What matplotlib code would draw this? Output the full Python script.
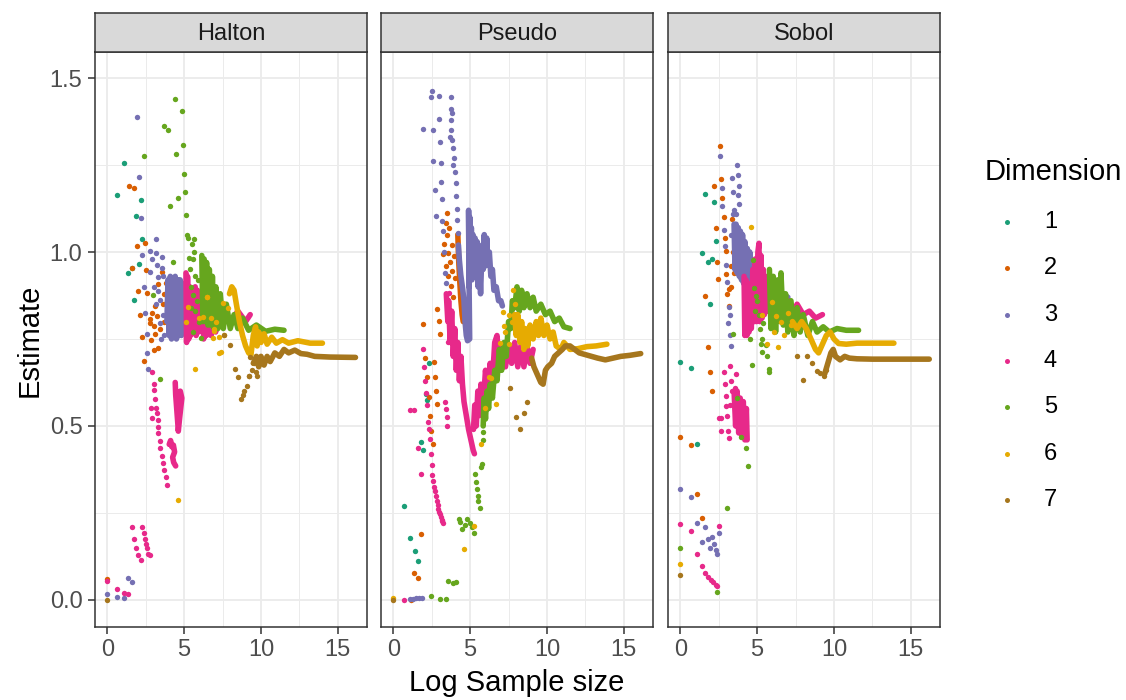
import matplotlib
matplotlib.use("Agg")
import matplotlib.pyplot as plt
import numpy as np

plt.rcParams["font.family"] = ["Liberation Sans", "DejaVu Sans"]

# facet names, dimensions and colours (Dark2)
panels = ["Halton", "Pseudo", "Sobol"]
dims = [1, 2, 3, 4, 5, 6, 7]
colors = ["#1B9E77", "#D95F02", "#7570B3", "#E7298A", "#66A61E", "#E6AB02", "#A6761D"]
x_ticks = [0, 5, 10, 15]
y_ticks = [0.0, 0.5, 1.0, 1.5]
y_tick_labels = ["0.0", "0.5", "1.0", "1.5"]

# sparse early estimates (log n, estimate)
halton_dots = {
    1: [(1.09, 1.255), (0.65, 1.163), (2.19, 1.15), (1.90, 1.103), (2.28, 1.037), (2.06, 0.966),
        (1.36, 0.941), (1.60, 0.955), (1.76, 0.862)],
    2: [(0, 0.06), (1.38, 1.19), (1.77, 1.185), (1.93, 1.018), (2.47, 1.026), (1.60, 0.953), (2.53, 0.948),
        (2.03, 0.889), (2.61, 0.882), (2.14, 0.818), (2.75, 0.807), (2.94, 0.825), (3.12, 0.845), (3.66, 0.879),
        (3.81, 0.911), (3.55, 0.943), (3.27, 0.907), (3.25, 0.815), (2.81, 0.795), (3.03, 0.787), (3.12, 0.765),
        (2.83, 0.747), (2.29, 0.756), (2.40, 0.688), (3.03, 0.718), (3.33, 0.725), (3.45, 0.78), (3.60, 0.85),
        (3.90, 0.86), (3.70, 0.80)],
    3: [(0, 0.017), (0.65, 0.007), (1.09, 0.004), (1.35, 0.064), (1.59, 0.051), (1.93, 1.388), (2.06, 1.217),
        (2.19, 1.099), (3.17, 1.037), (2.75, 1.003), (3.20, 0.996), (2.29, 0.99), (3.55, 0.985), (2.90, 0.98),
        (3.22, 0.963), (3.55, 0.955), (2.81, 0.943), (3.62, 0.932), (3.29, 0.927), (2.37, 0.90), (3.33, 0.887),
        (3.44, 0.863), (2.46, 0.825), (2.57, 0.765), (2.61, 0.709), (2.68, 0.663), (3.44, 0.797), (3.20, 0.85),
        (3.60, 0.82), (3.50, 0.75), (3.70, 0.76), (3.05, 0.90)],
    4: [(0, 0.055), (0.65, 0.031), (1.09, 0.021), (1.37, 0.016), (1.59, 0.209), (2.29, 0.209), (1.76, 0.174),
        (2.37, 0.191), (2.46, 0.174), (1.90, 0.148), (2.53, 0.161), (2.03, 0.129), (2.59, 0.148), (2.18, 0.114),
        (2.68, 0.133), (2.75, 0.129), (2.92, 0.654), (3.03, 0.620), (3.05, 0.603), (3.10, 0.577), (2.83, 0.553),
        (3.18, 0.553), (2.88, 0.523), (3.22, 0.537), (3.27, 0.516), (3.29, 0.498), (3.33, 0.479), (3.40, 0.458),
        (3.46, 0.436), (3.53, 0.415), (3.62, 0.394), (3.70, 0.373), (3.79, 0.352), (3.90, 0.331)],
    5: [(4.39, 1.44), (4.87, 1.405), (3.70, 1.362), (3.93, 1.35), (4.93, 1.307), (2.39, 1.277), (4.50, 1.283),
        (5.0, 1.225), (5.07, 1.173), (4.61, 1.155), (4.11, 1.132), (5.11, 1.106), (5.2, 1.049), (5.63, 1.037),
        (5.52, 1.023), (5.67, 1.0), (4.26, 0.972), (5.33, 0.984), (5.59, 0.98), (5.25, 1.04), (5.4, 0.95),
        (5.7, 0.93), (5.9, 0.92), (5.45, 0.90), (5.55, 0.875), (5.85, 0.86), (5.45, 0.84), (5.7, 0.83),
        (5.95, 0.80), (6.12, 0.754), (5.55, 0.77), (3.0, 0.877), (3.42, 0.636)],
    6: [(5.69, 0.663), (4.60, 0.288), (5.28, 0.842), (6.52, 0.87), (6.2, 0.813), (6.72, 0.81), (6.92, 0.78),
        (6.9, 0.753), (7.24, 0.756), (7.37, 0.713), (7.57, 0.76), (7.5, 0.853), (7.83, 0.84), (6.95, 0.772),
        (7.28, 0.71), (5.1, 0.80), (6.0, 0.81), (6.49, 0.871), (7.1, 0.80)],
    7: [(0, 0.0), (7.58, 0.76), (8.0, 0.733), (8.30, 0.664), (8.52, 0.641), (8.71, 0.577), (8.80, 0.59),
        (8.89, 0.60), (9.11, 0.614), (9.19, 0.645), (9.28, 0.698), (9.54, 0.68), (9.43, 0.661), (9.69, 0.656),
        (9.76, 0.643), (9.22, 0.643)],
}
pseudo_dots = {
    1: [(0.70, 0.269), (1.11, 0.179), (1.39, 0.14), (1.61, 0.111), (1.83, 0.453), (1.96, 0.432), (2.30, 0.68),
        (2.11, 0.592), (2.22, 0.576)],
    2: [(1.13, 0.0), (1.80, 0.19), (1.37, 0.078), (1.61, 0.063), (1.93, 0.794), (2.07, 0.696), (2.20, 0.64),
        (2.30, 0.583), (2.41, 0.53), (2.46, 0.486), (2.57, 0.448), (2.63, 0.684), (2.72, 0.64), (2.78, 0.60),
        (2.85, 0.564), (2.87, 0.837), (2.96, 0.802), (3.04, 0.765), (3.48, 1.112), (3.43, 1.083), (3.48, 1.048),
        (3.30, 1.024), (3.59, 0.998), (3.26, 0.995), (3.70, 0.971), (3.80, 0.945), (3.96, 0.988), (4.02, 0.924),
        (3.78, 0.903), (3.55, 0.93), (3.65, 1.07), (3.85, 1.02), (3.40, 0.96), (3.90, 0.87)],
    3: [(1.09, 0.002), (1.3, 0.003), (1.5, 0.004), (1.7, 0.005), (1.85, 0.005), (2.5, 1.462), (2.43, 1.445),
        (2.96, 1.449), (3.76, 1.445), (1.96, 1.354), (2.57, 1.35), (3.0, 1.381), (3.07, 1.316), (2.61, 1.263),
        (3.09, 1.255), (3.13, 1.201), (2.72, 1.178), (3.17, 1.152), (2.78, 1.104), (3.17, 1.09), (3.25, 1.06),
        (3.3, 1.0), (3.35, 0.94), (3.45, 0.91), (3.74, 1.411), (3.80, 1.40), (3.78, 1.379), (3.70, 1.33),
        (3.76, 1.35), (3.83, 1.321), (3.91, 1.30), (3.96, 1.271), (3.90, 1.25), (4.02, 1.231), (4.07, 1.199),
        (4.09, 1.162), (4.13, 1.125), (4.15, 1.093), (4.20, 1.056)],
    4: [(0.70, 0.0), (1.09, 0.545), (1.37, 0.545), (1.61, 0.436), (1.80, 0.362), (1.91, 0.72), (2.0, 0.67),
        (2.09, 0.629), (2.15, 0.595), (2.20, 0.561), (2.28, 0.51), (2.33, 0.49), (2.39, 0.462), (2.45, 0.42),
        (2.50, 0.389), (2.55, 0.36), (2.61, 0.341), (2.66, 0.325), (2.72, 0.313), (2.77, 0.298), (2.83, 0.283),
        (2.88, 0.272), (2.93, 0.262), (2.98, 0.254), (3.04, 0.246), (3.09, 0.238), (3.15, 0.23), (3.20, 0.226),
        (3.26, 0.222), (3.39, 0.569), (3.43, 0.548), (3.48, 0.527), (3.52, 0.50), (3.63, 0.881), (3.6, 0.80),
        (3.58, 0.74)],
    5: [(2.43, 0.011), (3.04, 0.002), (3.43, 0.002), (3.59, 0.053), (3.87, 0.049), (4.09, 0.051), (4.26, 0.232),
        (4.35, 0.225), (4.50, 0.205), (4.78, 0.232), (4.65, 0.215), (5.0, 0.221), (5.11, 0.209), (5.28, 0.193),
        (5.33, 0.362), (5.38, 0.34), (5.43, 0.32), (5.48, 0.30), (5.54, 0.283), (5.65, 0.265), (5.70, 0.383),
        (5.75, 0.39), (5.83, 0.484), (5.87, 0.46)],
    6: [(0, 0.005), (4.63, 0.145), (5.28, 0.212), (5.72, 0.447), (6.0, 0.553), (6.70, 0.564), (6.2, 0.64),
        (6.35, 0.638), (6.96, 0.738), (7.11, 0.828), (7.22, 0.786), (7.3, 0.77), (7.5, 0.736), (7.78, 0.89),
        (7.93, 0.85), (7.7, 0.80), (7.55, 0.82)],
    7: [(0, 0.0), (7.57, 0.608), (8.0, 0.526), (8.52, 0.537), (8.26, 0.492), (8.7, 0.57)],
}
sobol_dots = {
    1: [(0, 0.683), (0.69, 0.666), (1.11, 0.447), (1.61, 1.167), (2.21, 1.144), (2.30, 1.033), (1.39, 0.997),
        (1.80, 0.971), (2.08, 0.98), (1.95, 0.85)],
    2: [(0, 0.468), (0.69, 0.444), (1.11, 0.304), (1.39, 0.235), (2.56, 1.304), (2.65, 1.21), (2.19, 1.189),
        (2.73, 1.154), (2.82, 1.10), (2.30, 1.069), (2.91, 1.039), (2.41, 0.971), (2.95, 1.003), (2.95, 0.937),
        (2.47, 0.921), (3.17, 0.895), (1.61, 0.873), (3.17, 0.844), (1.80, 0.728), (1.95, 0.654), (2.08, 0.60),
        (3.36, 1.095), (3.60, 1.061), (3.71, 1.019), (3.82, 0.987), (3.93, 0.955), (3.99, 0.934), (3.28, 0.961),
        (3.05, 0.88), (3.45, 1.0), (3.5, 0.94), (3.55, 1.03), (3.3, 0.90)],
    3: [(0, 0.32), (0.69, 0.296), (1.11, 0.221), (1.61, 0.209), (1.39, 0.166), (1.80, 0.175), (2.08, 0.182),
        (2.21, 0.161), (1.95, 0.15), (2.32, 0.144), (2.41, 0.132), (2.52, 0.193), (2.56, 1.275), (3.71, 1.249),
        (3.38, 1.214), (3.75, 1.221), (2.69, 1.183), (3.43, 1.172), (3.80, 1.189), (3.77, 1.163), (2.73, 1.133),
        (3.82, 1.138), (3.49, 1.12), (2.86, 1.064), (2.91, 1.016), (2.99, 0.963), (3.06, 0.913), (3.17, 0.842),
        (3.23, 0.818), (3.12, 0.795), (3.21, 0.762), (3.32, 0.731), (3.40, 1.11), (3.60, 1.11), (3.3, 1.05)],
    4: [(0, 0.219), (0.69, 0.198), (1.11, 0.132), (1.39, 0.097), (1.61, 0.078), (1.80, 0.066), (1.97, 0.057),
        (2.13, 0.05), (2.30, 0.044), (2.41, 0.039), (2.52, 0.213), (3.21, 0.672), (2.86, 0.654), (3.6, 0.65),
        (2.91, 0.62), (3.54, 0.608), (3.64, 0.592), (2.95, 0.587), (2.99, 0.557), (2.52, 0.523), (2.62, 0.523),
        (3.05, 0.53), (3.12, 0.486), (2.67, 0.486), (3.17, 0.466), (3.3, 0.63), (3.35, 0.60), (3.25, 0.56)],
    5: [(0, 0.15), (2.41, 0.023), (3.04, 0.264), (4.40, 0.386), (4.27, 0.436), (3.97, 0.468), (3.45, 0.765),
        (3.67, 0.579), (4.73, 0.977), (4.79, 0.897), (4.95, 0.874), (4.86, 0.83), (5.12, 0.818), (5.40, 0.797),
        (4.51, 0.749), (5.34, 0.749), (5.25, 0.735), (5.55, 0.733), (5.34, 0.712), (5.66, 0.70), (5.77, 0.664),
        (5.8, 0.655), (4.64, 0.675), (5.0, 0.86), (5.2, 0.78)],
    6: [(0, 0.103), (4.62, 1.072), (5.99, 0.855), (5.34, 0.818), (6.20, 0.816), (6.53, 0.799), (7.0, 0.825),
        (6.75, 0.76), (6.38, 0.726), (5.66, 0.736), (7.2, 0.79), (6.1, 0.77)],
    7: [(0, 0.071), (7.98, 0.632), (7.61, 0.701), (8.26, 0.701), (8.55, 0.68), (8.92, 0.659), (9.1, 0.652),
        (9.35, 0.643), (9.5, 0.66)],
}

# dense later estimates: consecutive points merge into trails (list of segments)
halton_trails = {
    3: [[(3.88, 0.80), (3.95, 0.92), (4.02, 0.76), (4.1, 0.93), (4.18, 0.75), (4.26, 0.92), (4.34, 0.76),
         (4.42, 0.93), (4.5, 0.75), (4.58, 0.92), (4.66, 0.76), (4.74, 0.92), (4.82, 0.76), (4.9, 0.91),
         (4.98, 0.78), (5.05, 0.88), (5.2, 0.84), (5.5, 0.86), (6.0, 0.88), (6.5, 0.87)]],
    4: [[(4.03, 0.447), (4.12, 0.458), (4.2, 0.44), (4.3, 0.445), (4.38, 0.425), (4.25, 0.41), (4.32, 0.395),
         (4.45, 0.385)],
        [(4.42, 0.625), (4.45, 0.59), (4.5, 0.56), (4.55, 0.53), (4.6, 0.5), (4.62, 0.485), (4.7, 0.52),
         (4.8, 0.56), (4.85, 0.58), (4.75, 0.6), (4.65, 0.57)],
        [(5.12, 0.94), (5.16, 0.74), (5.22, 0.93), (5.3, 0.75), (5.36, 0.90), (5.42, 0.76), (5.72, 0.90),
         (5.78, 0.76), (5.86, 0.89), (5.94, 0.77), (6.2, 0.88), (6.27, 0.75), (6.36, 0.87), (6.45, 0.76),
         (6.6, 0.84), (6.75, 0.76), (6.9, 0.83), (7.05, 0.77), (7.2, 0.83), (7.35, 0.79), (7.6, 0.83),
         (8.0, 0.80), (8.5, 0.83), (9.0, 0.80), (9.3, 0.82)]],
    5: [[(6.15, 0.99), (6.22, 0.80), (6.3, 0.98), (6.38, 0.80), (6.46, 0.97), (6.55, 0.79), (6.64, 0.95),
         (6.74, 0.79), (6.84, 0.93), (6.95, 0.78), (7.06, 0.90), (7.2, 0.78), (7.35, 0.88), (7.55, 0.78),
         (7.75, 0.85), (8.0, 0.78), (8.25, 0.82), (8.5, 0.78), (8.8, 0.81), (9.2, 0.775), (9.7, 0.79),
         (10.3, 0.772), (10.9, 0.778), (11.5, 0.775)]],
    6: [[(7.95, 0.88), (8.1, 0.90), (8.25, 0.89), (8.4, 0.85), (8.6, 0.80), (8.8, 0.76), (9.0, 0.73),
         (9.2, 0.71), (9.35, 0.705), (9.5, 0.76), (9.65, 0.785), (9.75, 0.73), (9.85, 0.77), (10.0, 0.74),
         (10.2, 0.765), (10.4, 0.735), (10.7, 0.755), (11.0, 0.738), (11.4, 0.748), (11.8, 0.738),
         (12.4, 0.745), (13.2, 0.738), (14.0, 0.738)]],
    7: [[(9.5, 0.68), (9.7, 0.70), (9.85, 0.67), (10.0, 0.70), (10.2, 0.675), (10.4, 0.70), (10.6, 0.685),
         (10.9, 0.71), (11.2, 0.70), (11.5, 0.72), (11.8, 0.71), (12.2, 0.718), (12.6, 0.708), (13.0, 0.706),
         (13.5, 0.70), (14.5, 0.698), (16.15, 0.697)]],
}
pseudo_trails = {
    2: [[(4.2, 1.05), (4.25, 0.98), (4.32, 0.92), (4.4, 0.86), (4.48, 0.82), (4.55, 0.80)]],
    3: [[(4.24, 1.02), (4.30, 0.977), (4.39, 0.934), (4.52, 0.892), (4.6, 0.86), (4.67, 0.80), (4.75, 0.76),
         (4.83, 0.745), (4.97, 0.75), (4.92, 0.95), (4.9, 1.12), (4.93, 0.90), (4.98, 1.10), (5.02, 0.93),
         (5.08, 1.07), (5.12, 0.92), (5.18, 1.05), (5.25, 0.94), (5.32, 1.04), (5.4, 0.93), (5.45, 1.03),
         (5.52, 0.90), (5.6, 0.98), (5.68, 0.88), (5.78, 1.02), (5.85, 0.95), (5.92, 1.05), (6.0, 0.96),
         (6.08, 1.04), (6.15, 0.97), (6.25, 1.0), (6.35, 0.93), (6.45, 0.95), (6.55, 0.89), (6.7, 0.90),
         (6.85, 0.86), (7.0, 0.86), (7.1, 0.845)]],
    4: [[(3.45, 0.88), (3.55, 0.80), (3.6, 0.86), (3.7, 0.74), (3.8, 0.83), (3.9, 0.70), (4.0, 0.78),
         (4.1, 0.66), (4.2, 0.74), (4.3, 0.63), (4.4, 0.70), (4.5, 0.62), (4.6, 0.57), (4.75, 0.53), (4.9, 0.49),
         (5.05, 0.46), (5.2, 0.43), (5.28, 0.42)],
        [(5.22, 0.49), (5.3, 0.56), (5.4, 0.50), (5.5, 0.60), (5.6, 0.53), (5.7, 0.62), (5.85, 0.56), (6.0, 0.66),
         (6.15, 0.60), (6.3, 0.68), (6.45, 0.63), (6.6, 0.74), (6.75, 0.76), (6.9, 0.66), (7.1, 0.73),
         (7.3, 0.67), (7.5, 0.73), (7.7, 0.68), (7.9, 0.74), (8.1, 0.67), (8.3, 0.73), (8.5, 0.67), (8.7, 0.73),
         (8.9, 0.68), (9.1, 0.72)]],
    5: [[(5.85, 0.50), (5.9, 0.58), (6.0, 0.52), (6.1, 0.60), (6.2, 0.55), (6.3, 0.62), (6.45, 0.58),
         (6.6, 0.66), (6.75, 0.63), (6.9, 0.72), (7.05, 0.66), (7.2, 0.74), (7.35, 0.70), (7.5, 0.80),
         (7.65, 0.78), (7.75, 0.86), (7.9, 0.84), (8.05, 0.90), (8.2, 0.83), (8.35, 0.89), (8.5, 0.84),
         (8.7, 0.88), (8.9, 0.84), (9.1, 0.87), (9.3, 0.83), (9.6, 0.85), (9.9, 0.82), (10.2, 0.83), (10.5, 0.80),
         (10.8, 0.81), (11.1, 0.785), (11.5, 0.78)]],
    6: [[(7.9, 0.82), (8.0, 0.76), (8.1, 0.82), (8.25, 0.74), (8.35, 0.80), (8.5, 0.72), (8.6, 0.78),
         (8.75, 0.73), (8.9, 0.79), (9.1, 0.75), (9.3, 0.80), (9.45, 0.76), (9.6, 0.81), (9.8, 0.76), (10.0, 0.79),
         (10.2, 0.75), (10.4, 0.77), (10.6, 0.73), (10.9, 0.72), (11.1, 0.74), (11.5, 0.72), (12.0, 0.722),
         (12.6, 0.728), (13.2, 0.73), (13.9, 0.735)]],
    7: [[(9.0, 0.695), (9.15, 0.67), (9.3, 0.655), (9.45, 0.64), (9.6, 0.625), (9.75, 0.62), (9.9, 0.66),
         (10.05, 0.67), (10.3, 0.68), (10.5, 0.70), (10.75, 0.71), (11.0, 0.72), (11.2, 0.73), (11.5, 0.73),
         (11.8, 0.72), (12.1, 0.71), (12.5, 0.705), (12.9, 0.70), (13.3, 0.695), (13.8, 0.69), (14.3, 0.695),
         (14.8, 0.70), (15.4, 0.703), (16.1, 0.708)]],
}
sobol_trails = {
    3: [[(3.5, 1.08), (3.56, 0.95), (3.63, 1.08), (3.7, 0.94), (3.77, 1.07), (3.84, 0.93), (3.91, 1.06),
         (3.98, 0.92), (4.05, 1.05), (4.12, 0.91), (4.2, 1.03), (4.28, 0.92), (4.36, 1.01), (4.44, 0.93),
         (4.52, 1.00), (4.6, 0.92), (4.75, 0.97), (5.0, 0.92), (5.5, 0.90), (6.0, 0.90), (6.5, 0.88),
         (7.0, 0.87)]],
    4: [[(3.5, 0.60), (3.6, 0.50), (3.7, 0.60), (3.8, 0.48), (3.9, 0.58), (4.0, 0.47), (4.1, 0.57), (4.2, 0.46),
         (4.3, 0.55), (4.35, 0.46)],
        [(4.15, 0.93), (4.2, 0.76), (4.27, 0.92), (4.33, 0.76), (4.4, 0.91), (4.47, 0.77), (4.55, 0.90),
         (4.62, 0.78), (4.72, 0.95), (4.8, 0.80), (4.88, 0.98), (4.95, 0.80), (5.05, 1.00), (5.12, 1.025),
         (5.17, 0.80), (5.25, 0.99), (5.32, 0.81), (5.4, 0.95), (5.47, 0.82), (5.55, 0.93), (5.62, 0.83),
         (5.72, 0.91), (5.8, 0.83), (5.9, 0.89), (6.0, 0.82), (6.15, 0.88), (6.3, 0.82), (6.5, 0.87),
         (6.8, 0.83), (7.0, 0.86), (7.3, 0.82), (7.6, 0.85), (8.0, 0.82), (8.4, 0.83), (8.8, 0.81),
         (9.25, 0.82)]],
    5: [[(5.8, 0.95), (5.9, 0.78), (6.05, 0.93), (6.2, 0.77), (6.35, 0.92), (6.5, 0.80), (6.55, 0.94),
         (6.7, 0.79), (6.85, 0.88), (7.0, 0.77), (7.2, 0.86), (7.4, 0.76), (7.6, 0.84), (7.8, 0.77), (8.0, 0.82),
         (8.3, 0.76), (8.6, 0.80), (8.9, 0.77), (9.3, 0.785), (9.7, 0.77), (10.2, 0.78), (10.8, 0.775),
         (11.6, 0.775)]],
    6: [[(7.3, 0.80), (7.6, 0.78), (7.9, 0.80), (8.2, 0.78), (8.5, 0.75), (8.8, 0.72), (9.0, 0.71), (9.2, 0.73),
         (9.5, 0.76), (9.75, 0.77), (10.0, 0.75), (10.3, 0.737), (10.8, 0.735), (11.5, 0.738), (12.5, 0.738),
         (13.9, 0.738)]],
    7: [[(9.4, 0.65), (9.6, 0.68), (9.8, 0.71), (9.95, 0.72), (10.1, 0.70), (10.4, 0.69), (10.7, 0.70),
         (11.0, 0.695), (11.5, 0.693), (12.5, 0.692), (13.5, 0.692), (16.2, 0.692)]],
}

dots_by_panel = [halton_dots, pseudo_dots, sobol_dots]
trails_by_panel = [halton_trails, pseudo_trails, sobol_trails]

W, H = 1126, 700
fig = plt.figure(figsize=(W / 100, H / 100), dpi=100)


def box(x0, y0, x1, y1):
    # pixel box (top-left origin) -> figure fraction rect
    return [x0 / W, 1 - y1 / H, (x1 - x0) / W, (y1 - y0) / H]


panel_left = [95, 381, 668]
panel_w = 272
top, bottom, strip_top = 52, 627, 13
dot_size = 15
trail_lw = 4.0

for i, name in enumerate(panels):
    x0 = panel_left[i]
    ax = fig.add_axes(box(x0, top, x0 + panel_w, bottom))
    ax.set_xlim(-0.8, 16.9)
    ax.set_ylim(-0.078, 1.575)

    for d, c in zip(dims, colors):
        z = 2 + d
        pts = dots_by_panel[i].get(d, [])
        if pts:
            xs, ys = zip(*pts)
            ax.scatter(xs, ys, s=dot_size, color=c, linewidths=0, zorder=z)
        for seg in trails_by_panel[i].get(d, []):
            xs, ys = zip(*seg)
            ax.plot(xs, ys, color=c, lw=trail_lw, solid_capstyle="round",
                    solid_joinstyle="round", zorder=z)

    ax.set_xticks(x_ticks)
    ax.set_xticks([2.5, 7.5, 12.5], minor=True)
    ax.set_yticks(y_ticks)
    ax.set_yticks([0.25, 0.75, 1.25], minor=True)
    ax.set_yticklabels(y_tick_labels)
    ax.grid(which="major", color="#EBEBEB", lw=1.3)
    ax.grid(which="minor", color="#EBEBEB", lw=0.7)
    ax.set_axisbelow(True)
    ax.tick_params(which="major", length=5, width=1.1, color="#333333",
                   labelsize=17, labelcolor="#4D4D4D", pad=4)
    ax.tick_params(which="minor", length=0)
    if i > 0:
        ax.tick_params(axis="y", left=False, labelleft=False)
    for sp in ax.spines.values():
        sp.set_color("#333333")
        sp.set_linewidth(1.1)

    # facet strip
    sax = fig.add_axes(box(x0, strip_top, x0 + panel_w, top))
    sax.set_facecolor("#D9D9D9")
    sax.set_xticks([])
    sax.set_yticks([])
    for sp in sax.spines.values():
        sp.set_color("#333333")
        sp.set_linewidth(1.1)
    sax.text(0.5, 0.47, name, ha="center", va="center", fontsize=17, color="#1A1A1A",
             transform=sax.transAxes)

fig.text(517 / W, 1 - 683 / H, "Log Sample size", ha="center", va="center", fontsize=21)
fig.text(30 / W, 1 - 340 / H, "Estimate", ha="center", va="center", rotation=90, fontsize=21)

# legend
lax = fig.add_axes([0, 0, 1, 1])
lax.set_xlim(0, W)
lax.set_ylim(H, 0)
lax.axis("off")
lax.text(985, 172, "Dimension", ha="left", va="center", fontsize=21)
for k, (d, c) in enumerate(zip(dims, colors)):
    yy = 222 + 46.3 * k
    lax.scatter([1007], [yy], s=13, color=c, linewidths=0)
    lax.text(1044, yy, str(d), ha="left", va="center", fontsize=17)

fig.savefig("out.png", dpi=100)
